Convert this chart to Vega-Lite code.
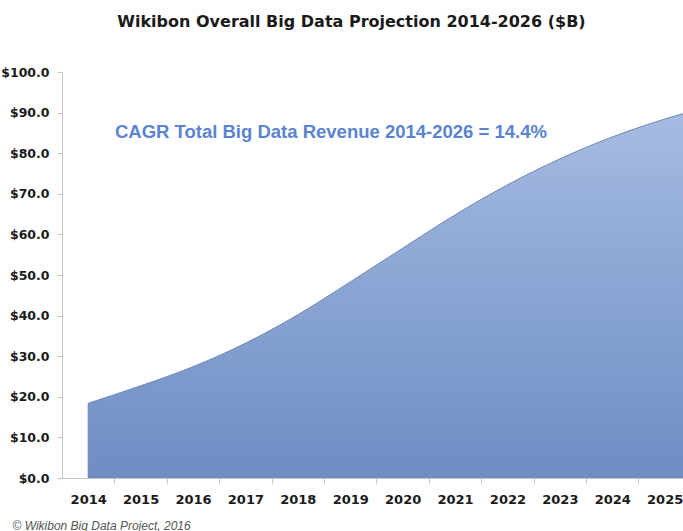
{
  "$schema": "https://vega.github.io/schema/vega-lite/v6.json",
  "autosize": {"type": "none"},
  "width": 621,
  "height": 406,
  "padding": {"left": 62, "top": 72, "right": 0, "bottom": 53},
  "background": "white",
  "title": {
    "text": "Wikibon Overall Big Data Projection 2014-2026 ($B)",
    "font": "DejaVu Sans",
    "fontSize": 16,
    "fontWeight": "bold",
    "color": "#1a1a1a",
    "anchor": "middle",
    "dx": -21,
    "baseline": "middle",
    "offset": 28
  },
  "datasets": {
    "revenue": [
      {"year": 2014, "value": 18.4},
      {"year": 2015, "value": 22.7},
      {"year": 2016, "value": 27.4},
      {"year": 2017, "value": 33.2},
      {"year": 2018, "value": 40.2},
      {"year": 2019, "value": 48.3},
      {"year": 2020, "value": 56.6},
      {"year": 2021, "value": 64.8},
      {"year": 2022, "value": 72.2},
      {"year": 2023, "value": 78.6},
      {"year": 2024, "value": 84.0},
      {"year": 2025, "value": 88.4},
      {"year": 2026, "value": 92.1}
    ],
    "note": [
      {"year": 2014.51, "value": 85.1, "label": "CAGR Total Big Data Revenue 2014-2026 = 14.4%"}
    ]
  },
  "encoding": {
    "x": {
      "field": "year",
      "type": "quantitative",
      "scale": {"domain": [2013.5, 2025.35], "nice": false, "zero": false},
      "axis": {
        "values": [2014, 2015, 2016, 2017, 2018, 2019, 2020, 2021, 2022, 2023, 2024, 2025],
        "format": "d",
        "grid": false,
        "domainColor": "#c4c4c4",
        "tickColor": "#c4c4c4",
        "tickSize": 5,
        "tickOffset": 26.2,
        "labelOffset": -26.2,
        "labelFont": "DejaVu Sans",
        "labelFontSize": 13,
        "labelFontWeight": "bold",
        "labelColor": "#1a1a1a",
        "labelPadding": 10,
        "labelFlush": false,
        "labelOverlap": false,
        "title": "© Wikibon Big Data Project, 2016",
        "titleFont": "Liberation Sans",
        "titleFontSize": 12,
        "titleFontStyle": "italic",
        "titleFontWeight": "normal",
        "titleColor": "#555555",
        "titleAnchor": "start",
        "titleAlign": "left",
        "titleBaseline": "middle",
        "titleX": -50,
        "titleY": 47
      }
    },
    "y": {
      "field": "value",
      "type": "quantitative",
      "scale": {"domain": [0, 100], "nice": false},
      "axis": {
        "values": [0, 10, 20, 30, 40, 50, 60, 70, 80, 90, 100],
        "format": "$.1f",
        "grid": false,
        "domainColor": "#c4c4c4",
        "tickColor": "#c4c4c4",
        "tickSize": 5,
        "labelFont": "DejaVu Sans",
        "labelFontSize": 12.5,
        "labelFontWeight": "bold",
        "labelColor": "#1a1a1a",
        "labelPadding": 8,
        "title": null
      }
    }
  },
  "layer": [
    {
      "data": {"name": "revenue"},
      "mark": {
        "type": "area",
        "interpolate": "monotone",
        "clip": true,
        "stroke": "#6f86b3",
        "strokeWidth": 1,
        "fill": {
          "gradient": "linear",
          "x1": 0, "y1": 0, "x2": 0, "y2": 1,
          "stops": [
            {"offset": 0, "color": "#a7bde2"},
            {"offset": 1, "color": "#6d8dc4"}
          ]
        }
      }
    },
    {
      "data": {"name": "note"},
      "mark": {
        "type": "text",
        "align": "left",
        "baseline": "middle",
        "font": "Liberation Sans",
        "fontSize": 18.5,
        "fontWeight": "bold",
        "color": "#5a84cf"
      },
      "encoding": {
        "text": {"field": "label"}
      }
    }
  ],
  "config": {"view": {"stroke": null}}
}
